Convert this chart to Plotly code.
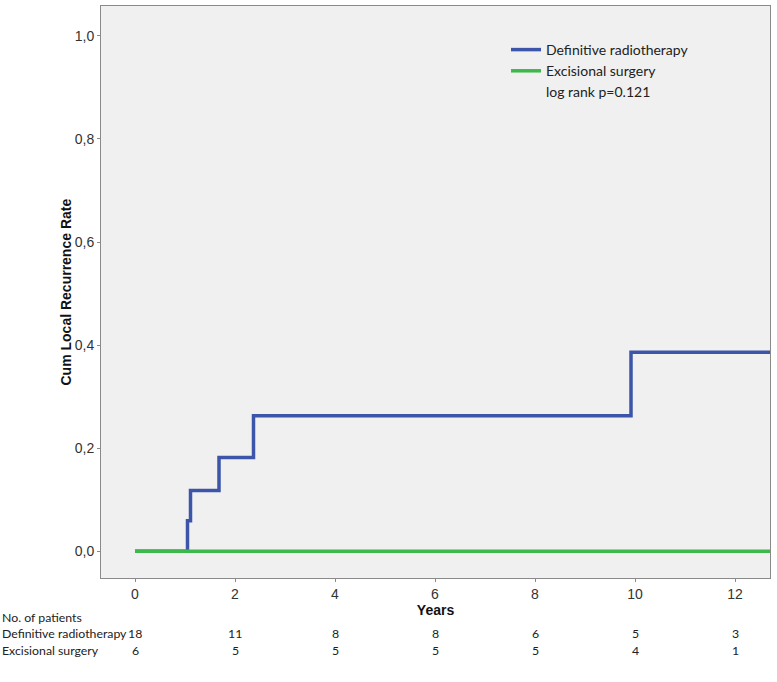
import plotly.graph_objects as go

# Data
dr_times = [0, 1.05, 1.11, 1.68, 2.37, 9.92, 13.0]
dr_rate = [0, 0.059, 0.118, 0.182, 0.263, 0.386, 0.386]
es_times = [0, 13.0]
es_rate = [0, 0]

risk_years = [0, 2, 4, 6, 8, 10, 12]
dr_n = [18, 11, 8, 8, 6, 5, 3]
es_n = [6, 5, 5, 5, 5, 4, 1]

y_ticks = [0.0, 0.2, 0.4, 0.6, 0.8, 1.0]
y_tick_text = ["0,0", "0,2", "0,4", "0,6", "0,8", "1,0"]
x_ticks = [0, 2, 4, 6, 8, 10, 12]

BLUE = "#3d55a8"
GREEN = "#3cb94a"
TXT = "Lato, 'Open Sans', sans-serif"
AX = "'Liberation Sans', Arial, sans-serif"

W, H = 777, 682
L, R, T, B = 101, 7, 6, 104
pw, ph = W - L - R, H - T - B


def px_x(x):
    return (x - L) / pw


def px_y(y):
    return (H - B - y) / ph


fig = go.Figure()
fig.add_trace(go.Scatter(x=dr_times, y=dr_rate, mode="lines", line=dict(color=BLUE, width=3.5, shape="hv"),
                         name="Definitive radiotherapy", legendrank=1))
fig.add_trace(go.Scatter(x=es_times, y=es_rate, mode="lines", line=dict(color=GREEN, width=3.5, shape="hv"),
                         name="Excisional surgery", legendrank=2))
fig.add_trace(go.Scatter(x=[None], y=[None], mode="lines", line=dict(color="rgba(0,0,0,0)", width=0),
                         name="log rank p=0.121", legendrank=3))

tf = dict(family=TXT, size=12.3, color="#222")
annotations = [
    dict(x=px_x(75.5), xref="paper", xanchor="right", y=0.5, yref="paper", yanchor="middle",
         text="<b>Cum Local Recurrence Rate</b>", textangle=-90, showarrow=False,
         font=dict(family=AX, size=14, color="#111")),
    dict(x=px_x(0), xref="paper", xanchor="left", y=px_y(617), yref="paper", yanchor="middle",
         text="No. of patients", showarrow=False, font=tf),
    dict(x=px_x(0), xref="paper", xanchor="left", y=px_y(633), yref="paper", yanchor="middle",
         text="Definitive radiotherapy", showarrow=False, font=tf),
    dict(x=px_x(0), xref="paper", xanchor="left", y=px_y(650), yref="paper", yanchor="middle",
         text="Excisional surgery", showarrow=False, font=tf),
]
for yr, a, b in zip(risk_years, dr_n, es_n):
    annotations.append(dict(x=yr, xref="x", y=px_y(633), yref="paper", yanchor="middle",
                            text=str(a), showarrow=False, font=tf))
    annotations.append(dict(x=yr, xref="x", y=px_y(650), yref="paper", yanchor="middle",
                            text=str(b), showarrow=False, font=tf))

fig.update_layout(
    width=W, height=H,
    margin=dict(l=L, r=R, t=T, b=B, autoexpand=False),
    paper_bgcolor="white", plot_bgcolor="#f0f0f0",
    showlegend=True,
    legend=dict(x=px_x(506), y=px_y(34), xanchor="left", yanchor="top", bgcolor="rgba(0,0,0,0)",
                font=dict(family=TXT, size=14, color="#222"), tracegroupgap=0, itemwidth=30),
    annotations=annotations,
    xaxis=dict(range=[-0.68, 12.7], tickvals=x_ticks, showgrid=False, zeroline=False, automargin=False,
               showline=True, linecolor="#8a8a8a", linewidth=1, mirror=True,
               ticks="outside", ticklen=3, tickcolor="#8a8a8a",
               tickfont=dict(family=AX, size=14, color="#333"),
               title=dict(text="<b>Years</b>", font=dict(family=AX, size=14, color="#111"), standoff=2)),
    yaxis=dict(range=[-0.052, 1.058], tickvals=y_ticks, ticktext=y_tick_text, showgrid=False, zeroline=False,
               automargin=False,
               showline=True, linecolor="#8a8a8a", linewidth=1, mirror=True,
               ticks="outside", ticklen=3, tickcolor="#8a8a8a",
               tickfont=dict(family=AX, size=14, color="#333")),
)

fig.write_html("out.html", config={"displayModeBar": False},
               post_script="document.body.style.margin='0';")
